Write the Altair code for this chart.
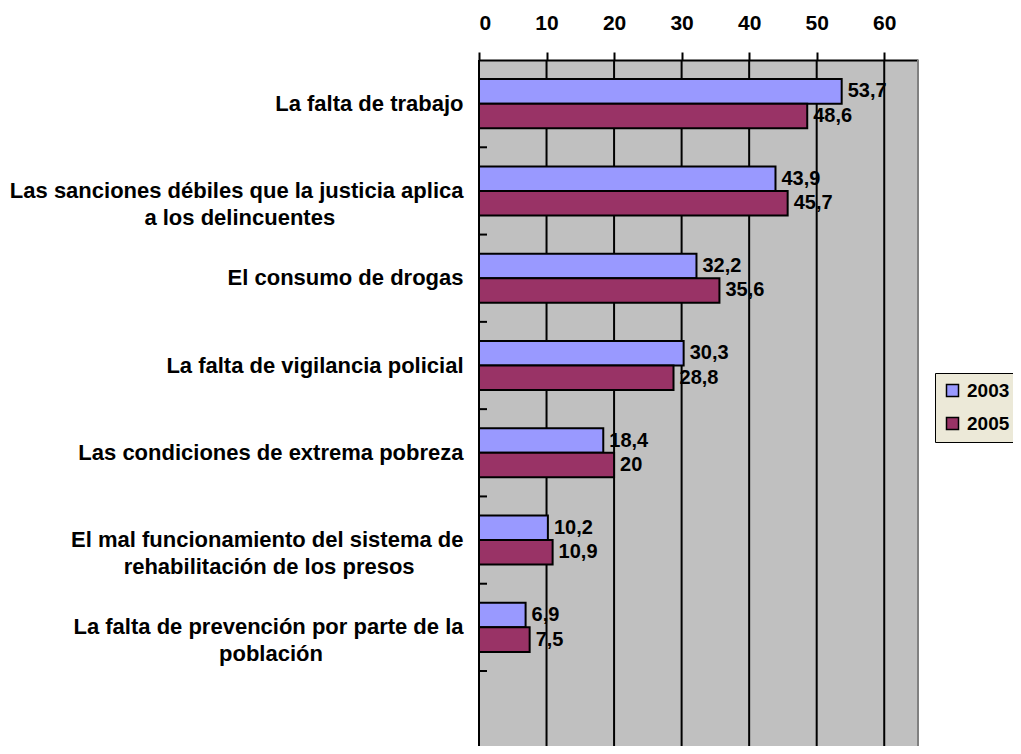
import altair as alt
import pandas as pd

categories = [
    "La falta de trabajo",
    "Las sanciones débiles que la justicia aplica|a los delincuentes",
    "El consumo de drogas",
    "La falta de vigilancia policial",
    "Las condiciones de extrema pobreza",
    "El mal funcionamiento del sistema de|rehabilitación de los presos",
    "La falta de prevención por parte de la|población",
]
years = ["2003", "2005"]
values_2003 = [53.7, 43.9, 32.2, 30.3, 18.4, 10.2, 6.9]
values_2005 = [48.6, 45.7, 35.6, 28.8, 20, 10.9, 7.5]
colors = ["#9999FF", "#993366"]
x_ticks = [0, 10, 20, 30, 40, 50, 60]

FONT = "Liberation Sans"

# Arial Bold advance widths (1/1000 em) to centre second lines of labels
W = {" ": 278, "a": 556, "b": 611, "c": 556, "d": 611, "e": 556, "f": 333, "g": 611,
     "h": 611, "i": 278, "j": 278, "k": 556, "l": 278, "m": 889, "n": 611, "o": 611,
     "p": 611, "q": 611, "r": 389, "s": 556, "t": 333, "u": 611, "v": 556, "w": 778,
     "x": 556, "y": 556, "z": 500, "á": 556, "é": 556, "í": 278, "ó": 611, "ú": 611,
     "L": 611, "E": 667}


def tw(s):
    return sum(W.get(ch, 556) for ch in s)


def centred(label):
    parts = label.split("|")
    if len(parts) == 1:
        return label
    w1 = tw(parts[0])
    out = [parts[0]]
    for p in parts[1:]:
        n = max(0, round((w1 - tw(p)) / 2 / 278))
        out.append(p + "\u00a0" * n + "\u200b")
    return "|".join(out)


cats = [centred(c) for c in categories]

rows = []
for c, v3, v5 in zip(cats, values_2003, values_2005):
    rows.append({"cat": c, "year": "2003", "value": v3})
    rows.append({"cat": c, "year": "2005", "value": v5})
df = pd.DataFrame(rows)
df["label"] = df["value"].map(lambda v: f"{v:g}".replace(".", ","))
cat_df = pd.DataFrame({"cat": cats})
grid_df = pd.DataFrame({"value": x_ticks})

x_scale = alt.Scale(domain=[0, 65], nice=False, zero=True)
x_axis = alt.Axis(
    orient="top", values=x_ticks, title=None, grid=False, domainColor="black",
    domainWidth=2, tickColor="black", tickWidth=2, tickSize=8, labelFont=FONT,
    labelFontSize=21, labelFontWeight="bold", labelColor="black", labelPadding=19,
)
y_scale = alt.Scale(domain=cats, range=[0, 611], paddingInner=0, paddingOuter=0)
y_axis = alt.Axis(
    title=None, ticks=False, domain=False,
    labelFont=FONT, labelFontSize=22, labelFontWeight="bold", labelColor="black",
    labelPadding=16, labelLimit=0, labelLineHeight=27,
    labelExpr="split(datum.label, '|')", labelAlign="right", labelBaseline="middle",
)

yoff = alt.YOffset("year:N", scale=alt.Scale(domain=years, paddingInner=0, paddingOuter=0.78))

grid = alt.Chart(grid_df).mark_rule(color="black", strokeWidth=2).encode(
    x=alt.X("value:Q", scale=x_scale, axis=x_axis),
)

border = alt.Chart(cat_df).mark_rule(color="#808080", strokeWidth=2).encode(
    x=alt.X(datum=65, scale=x_scale, axis=x_axis),
)

bars = alt.Chart(df).mark_bar(stroke="black", strokeWidth=2).encode(
    x=alt.X("value:Q", scale=x_scale, axis=x_axis),
    y=alt.Y("cat:N", sort=cats, scale=y_scale, axis=y_axis),
    yOffset=yoff,
    color=alt.Color(
        "year:N",
        scale=alt.Scale(domain=years, range=colors),
        legend=alt.Legend(
            orient="none", legendX=456, legendY=313, title=None,
            fillColor="#ECE9D8", strokeColor="black", padding=8,
            symbolType="square", symbolSize=144, symbolStrokeColor="black",
            symbolStrokeWidth=1.5, labelFont=FONT, labelFontSize=19,
            labelFontWeight="bold", labelColor="black", rowPadding=13,
            labelOffset=5,
        ),
    ),
)

texts = alt.Chart(df).mark_text(
    align="left", baseline="middle", dx=6, font=FONT, fontSize=20,
    fontWeight="bold", color="black",
).encode(
    x=alt.X("value:Q", scale=x_scale, axis=x_axis),
    y=alt.Y("cat:N", sort=cats, scale=y_scale, axis=y_axis),
    yOffset=yoff,
    text="label:N",
)

ticks = alt.Chart(cat_df).mark_rule(color="black", strokeWidth=2).encode(
    y=alt.Y("cat:N", sort=cats, scale=y_scale, axis=y_axis, bandPosition=1),
    x=alt.value(0),
    x2=alt.value(8),
)

chart = alt.layer(grid, border, bars, texts, ticks).properties(
    width=439, height=686,
    autosize=alt.AutoSizeParams(type="none"),
    padding={"left": 471, "top": 52, "right": 95, "bottom": 0},
    background="white",
).configure_view(fill="#C0C0C0", stroke=None)

chart.save("out.html", embed_options={"renderer": "svg", "actions": False})
